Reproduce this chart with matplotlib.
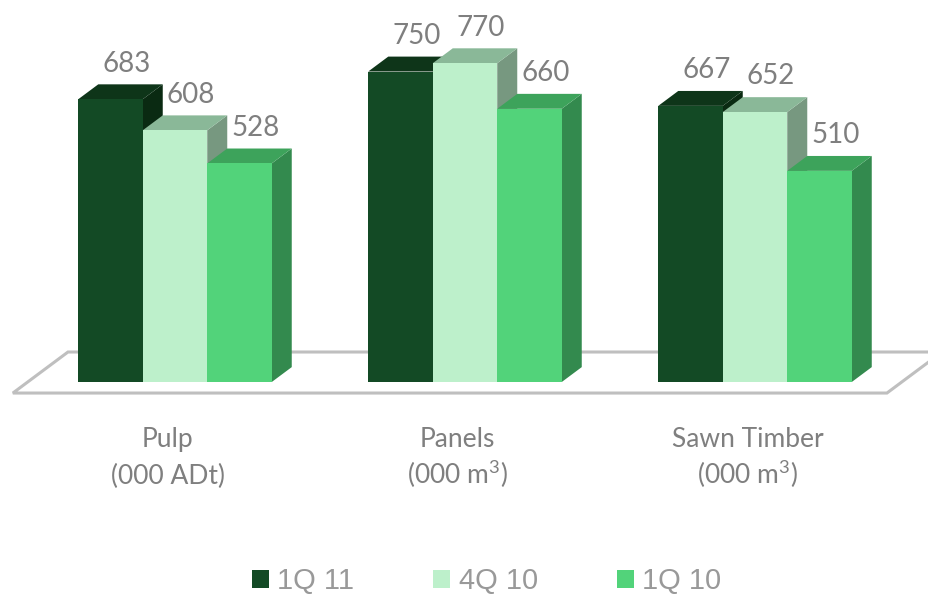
import matplotlib
matplotlib.use('Agg')
import matplotlib.pyplot as plt
from matplotlib.patches import Polygon, Patch

plt.rcParams['mathtext.fontset'] = 'custom'
plt.rcParams['mathtext.rm'] = 'Lato'

categories = ['Pulp', 'Panels', 'Sawn Timber']
units = ['(000 ADt)', '(000 m$^{3}$)', '(000 m$^{3}$)']
series = ['1Q 11', '4Q 10', '1Q 10']
values = {
    '1Q 11': [683, 750, 667],
    '4Q 10': [608, 770, 652],
    '1Q 10': [528, 660, 510],
}

front_colors = ['#134a25', '#bdf0cb', '#52d37a']
top_colors = ['#0e3519', '#8ab898', '#3da35b']
side_colors = ['#0a2a12', '#779880', '#338a4e']
text_grey = '#7f7f7f'

fig = plt.figure(figsize=(9.29, 5.94), dpi=100)
ax = fig.add_axes([0, 0, 1, 1])
ax.set_xlim(-0.6034, 2.6)
ax.set_ylim(-512, 922.7)
ax.axis('off')

# 3d offsets in data units
dx = 0.069
dy = 36.0
width = 0.2224

# floor
floor = Polygon([(-0.559, -26.6), (2.455, -26.6), (2.645, 72.5), (-0.369, 72.5)],
                closed=True, facecolor='white', edgecolor='#bfbfbf', lw=2.2, zorder=1)
ax.add_patch(floor)

z = 2
for i in range(len(categories)):
    for j, s in enumerate(series):
        v = values[s][i]
        x0 = i + (j - 1.5) * width
        x1 = x0 + width
        side = Polygon([(x1, 0), (x1 + dx, dy), (x1 + dx, v + dy), (x1, v)],
                       closed=True, facecolor=side_colors[j], edgecolor='none', zorder=z)
        top = Polygon([(x0, v), (x1, v), (x1 + dx, v + dy), (x0 + dx, v + dy)],
                      closed=True, facecolor=top_colors[j], edgecolor='none', zorder=z + 1)
        ax.add_patch(side)
        ax.add_patch(top)
        ax.bar(x0, v, width=width, align='edge', color=front_colors[j], zorder=z + 2)
        ax.text(x0 + width / 2 + 0.055, v + dy + 50, str(v), ha='center', va='center',
                fontsize=20, color=text_grey, family='Lato', zorder=20)
        z += 3

    ax.text(i - 0.025, -157, categories[i], ha='center', va='baseline', fontsize=19,
            color=text_grey, family='Lato')
    ax.text(i - 0.025, -246, units[i], ha='center', va='baseline', fontsize=19,
            color=text_grey, family='Lato')

handles = [Patch(facecolor=c, edgecolor='none') for c in front_colors]
fig.legend(handles, series, loc='center', bbox_to_anchor=(0.5237, 0.022), ncol=3,
           frameon=False, prop={'family': 'Liberation Sans', 'size': 21},
           labelcolor='#999999', handlelength=0.58, handleheight=0.58,
           handletextpad=0.3, columnspacing=2.7)

fig.savefig('out.png', dpi=100)
